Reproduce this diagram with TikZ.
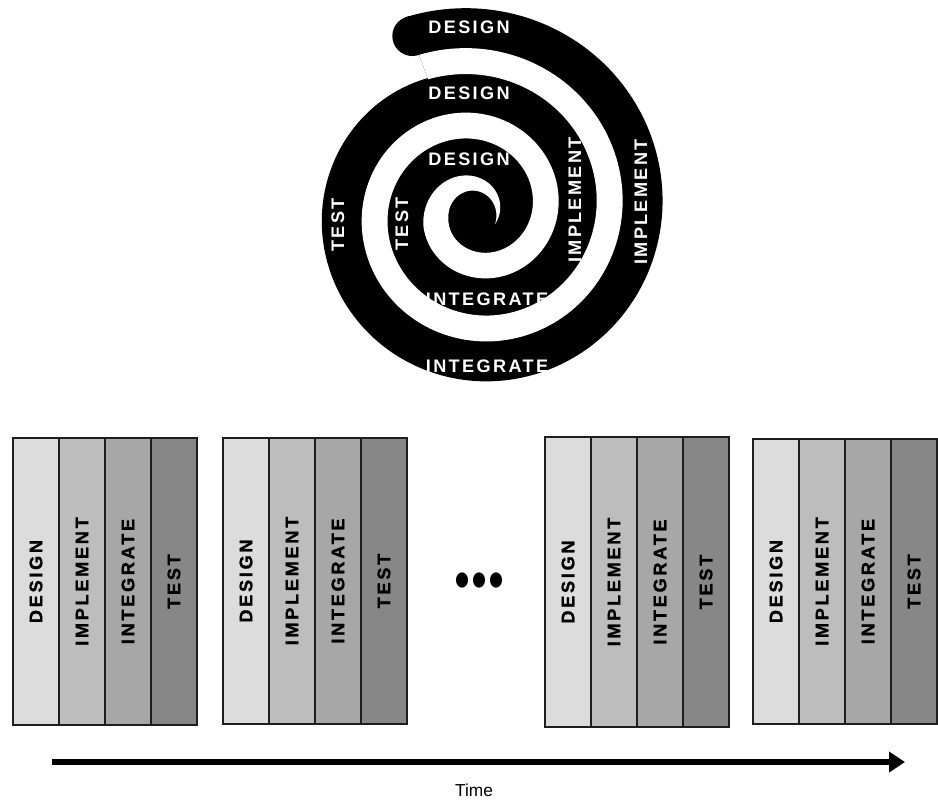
\documentclass[tikz,border=0pt]{standalone}
\usepackage{fontspec}
\setmainfont{Liberation Sans}
\newfontfamily\trackedfont[LetterSpace=13]{Liberation Sans}
\newfontfamily\widefont[LetterSpace=15,BoldFeatures={FakeBold=1.2}]{Liberation Sans}
\usetikzlibrary{arrows.meta,shapes.geometric}

\definecolor{phaseA}{HTML}{DCDCDC}
\definecolor{phaseB}{HTML}{BDBDBD}
\definecolor{phaseC}{HTML}{A7A7A7}
\definecolor{phaseD}{HTML}{878787}
\definecolor{rule}{HTML}{1E1E1E}

\begin{document}
\begin{tikzpicture}[x=0.75pt,y=-0.75pt,
  % gap centre line of the spiral and its half width (angle in degrees, counter-clockwise from up)
  declare function={
    rg(\t)=10*sqrt((1.6+0.018333*\t)*(1.6+0.018333*\t)+4.84);
    hw(\t)=13*min(1,max(0,(\t+125)/230));
  },
  spirallabel/.style={text=white, inner sep=0pt,
    font={\trackedfont\bfseries\fontsize{13.6}{15}\selectfont}},
  phasecol/.style={draw=rule, line width=0.9pt, minimum width=34.5pt,
    inner sep=0pt, font={\widefont\bfseries\fontsize{13.6}{15}\selectfont}},
  blockframe/.style={draw=rule, line width=1.4pt, inner sep=0pt},
  more/.style={ellipse, fill=black, inner sep=0pt, minimum width=9pt, minimum height=11.5pt},
  timeline/.style={line width=4.6pt, -{Triangle[length=12pt,width=15pt]}},
]
\useasboundingbox (0,0) rectangle (938,801);
\fill[white] (0,0) rectangle (938,801);

% ---------- spiral ----------
% solid body bounded by the outer edge of the last turn
\fill[black] plot[domain=380:740, samples=220]
  ({476-(rg(\x)+53)*sin(\x)}, {211-(rg(\x)+53)*cos(\x)}) -- cycle;
% rounded free end of the band
\coordinate (tail) at ({476-(rg(740)+33)*sin(740)}, {211-(rg(740)+33)*cos(740)});
\fill[black] (tail) circle[radius=15pt];
% white gap winding out from the centre
\fill[white] plot[domain=-125:740, samples=400]
  ({476-(rg(\x)+hw(\x))*sin(\x)}, {211-(rg(\x)+hw(\x))*cos(\x)})
  -- plot[domain=-125:740, samples=400]
  ({476-(rg(615-\x)-hw(615-\x))*sin(615-\x)}, {211-(rg(615-\x)-hw(615-\x))*cos(615-\x)})
  -- cycle;

\node[spirallabel] (sd1) at (469,27) {DESIGN};
\node[spirallabel] (sd2) at (469,93) {DESIGN};
\node[spirallabel] (sd3) at (469,159) {DESIGN};
\node[spirallabel, rotate=90] (si1) at (575,200) {IMPLEMENT};
\node[spirallabel, rotate=90] (si2) at (641,202) {IMPLEMENT};
\node[spirallabel, rotate=90] (st1) at (338,225) {TEST};
\node[spirallabel, rotate=90] (st2) at (402,224) {TEST};
\node[spirallabel] (sg1) at (487,299) {INTEGRATE};
\node[spirallabel] (sg2) at (487,366) {INTEGRATE};

% ---------- iterations ----------
\foreach \b/\bx/\by/\bh in {1/13/438/287, 2/223/438/286, 3/545/437/290, 4/753/439/285} {
  \foreach \lab/\shade [count=\c] in {DESIGN/phaseA, IMPLEMENT/phaseB, INTEGRATE/phaseC, TEST/phaseD} {
    \node[phasecol, fill=\shade, minimum height={\bh*0.75pt}] (b\b-\c)
      at ({\bx+46*(\c-0.5)}, {\by+\bh/2}) {\rotatebox{90}{\lab}};
  }
  \node[blockframe, minimum width=138pt, minimum height={\bh*0.75pt}] (blk\b)
    at ({\bx+92}, {\by+\bh/2}) {};
}

\node[more] (m1) at (462,580) {};
\node[more] (m2) at (479,580) {};
\node[more] (m3) at (496,580) {};

% ---------- time axis ----------
\coordinate (t0) at (52,762);
\coordinate (t1) at (905,762);
\draw[timeline] (t0) -- (t1);
\node[font=\fontsize{13}{15}\selectfont, inner sep=0pt] (time) at (474,790) {Time};
\end{tikzpicture}
\end{document}
